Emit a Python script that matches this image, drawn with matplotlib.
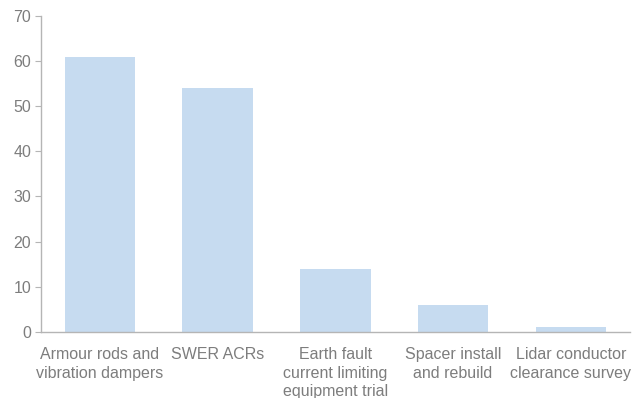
import matplotlib
matplotlib.use("Agg")
import matplotlib.pyplot as plt

categories = ["Armour rods and\nvibration dampers", "SWER ACRs",
              "Earth fault\ncurrent limiting\nequipment trial",
              "Spacer install\nand rebuild", "Lidar conductor\nclearance survey"]
values = [61, 54, 14, 6, 1]
yticks = [0, 10, 20, 30, 40, 50, 60, 70]

plt.rcParams['font.family'] = ['Liberation Sans', 'DejaVu Sans']
text_grey = "#7d7d7d"
axis_grey = "#b5b5b5"

fig = plt.figure(figsize=(6.33, 3.98), dpi=100)
ax = fig.add_axes([0.0648, 0.166, 0.93, 0.794])

ax.bar(range(len(values)), values, width=0.6, color="#c6dbf0")

ax.set_xlim(-0.5, len(values) - 0.5)
ax.set_ylim(0, 70)
ax.set_yticks(yticks)
ax.set_xticks(range(len(categories)))
ax.set_xticklabels(categories, linespacing=1.3)

for side in ["top", "right"]:
    ax.spines[side].set_visible(False)
for side in ["left", "bottom"]:
    ax.spines[side].set_color(axis_grey)
    ax.spines[side].set_linewidth(1.0)

ax.tick_params(axis="y", colors=axis_grey, labelcolor=text_grey,
               labelsize=11.5, length=4, pad=3)
ax.tick_params(axis="x", length=0, labelcolor=text_grey, labelsize=11.5, pad=11)

fig.savefig("out.png", dpi=100)
